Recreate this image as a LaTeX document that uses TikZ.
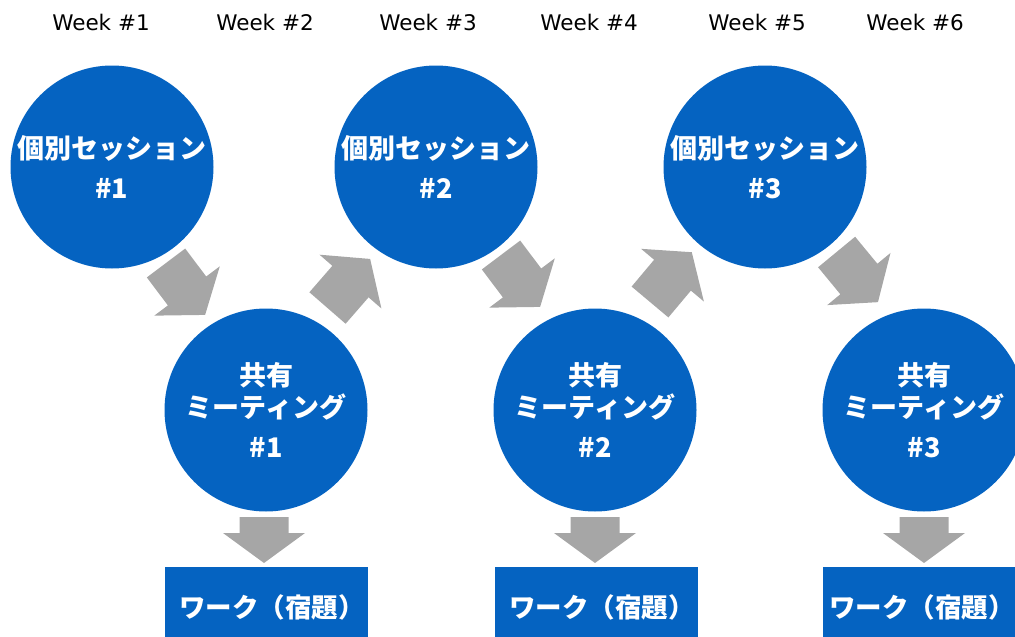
\documentclass[tikz,border=0pt]{standalone}
\usepackage{fontspec}
\newfontfamily\jp{Noto Sans CJK JP}
\newfontfamily\wk{DejaVu Sans}
\definecolor{cblue}{HTML}{0563C1}
\definecolor{agray}{HTML}{A6A6A6}
\tikzset{
  sess/.style={circle, fill=cblue, minimum size=203pt, inner sep=0pt, text=white,
    font=\jp\bfseries\fontsize{27}{40}\selectfont, align=center},
  meet/.style={sess, font=\jp\bfseries\fontsize{27}{32}\selectfont},
  workbox/.style={fill=cblue},
  work/.style={inner sep=0pt, text=white, font=\jp\bfseries\fontsize{26.5}{30}\selectfont},
  week/.style={font=\wk\fontsize{21.5}{26}\selectfont, text=black},
  diagarrow/.pic={\fill[agray] (0,-24)--(35,-24)--(35,-41)--(65,0)--(35,41)--(35,24)--(0,24)--cycle;},
  downarrow/.pic={\fill[agray] (-24.5,0)--(24.5,0)--(24.5,16)--(41,16)--(0,46)--(-41,16)--(-24.5,16)--cycle;}
}
\newcommand\worktext{ワーク（宿題\makebox[0.6em][l]{）}}
\begin{document}
\begin{tikzpicture}[x=1pt,y=-1pt]
\useasboundingbox (0,0) rectangle (1015,637);
% week labels
\node[week] (w1) at (101,22) {Week \#1};
\node[week] (w2) at (265,22) {Week \#2};
\node[week] (w3) at (428,22) {Week \#3};
\node[week] (w4) at (589,22) {Week \#4};
\node[week] (w5) at (757,22) {Week \#5};
\node[week] (w6) at (915,22) {Week \#6};
% sessions
\node[sess] (s1) at (112,167) {個別セッション\\\#1};
\node[sess] (s2) at (436,167) {個別セッション\\\#2};
\node[sess] (s3) at (765,167) {個別セッション\\\#3};
% meetings
\node[meet] (m1) at (266,410) {共有\\ミーティング\\[8pt]\#1};
\node[meet] (m2) at (595,410) {共有\\ミーティング\\[8pt]\#2};
\node[meet] (m3) at (924,410) {共有\\ミーティング\\[8pt]\#3};
% work boxes (the third one runs off the right edge, as in the reference)
\fill[workbox] (165,567) rectangle (368,637);
\fill[workbox] (495,567) rectangle (698,637);
\fill[workbox] (823,567) rectangle (1015,637);
\node[work] (k1) at (266.5,607) {\worktext};
\node[work] (k2) at (596.5,607) {\worktext};
\node[work] (k3) at (916.5,607) {\worktext};
% diagonal block arrows
\pic[rotate=-53] at (166,263) {diagarrow};
\pic[rotate=49] at (327.5,308) {diagarrow};
\pic[rotate=-53] at (501,255) {diagarrow};
\pic[rotate=50] at (650,302) {diagarrow};
\pic[rotate=-50.5] at (836.6,252) {diagarrow};
% down block arrows
\pic at (264,517) {downarrow};
\pic at (595,517) {downarrow};
\pic at (924,517) {downarrow};
\end{tikzpicture}
\end{document}
